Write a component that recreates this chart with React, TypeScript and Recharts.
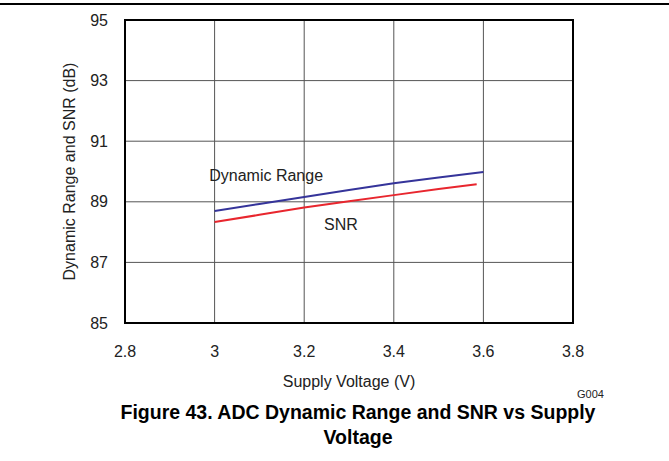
import { LineChart, Line, XAxis, YAxis, CartesianGrid, ReferenceArea, ReferenceDot } from 'recharts'

// Valeurs (dB vs tension d'alimentation)
const drVoltage = [3.0, 3.1, 3.2, 3.3, 3.4, 3.5, 3.6]
const dynamicRange = [88.7, 88.93, 89.16, 89.39, 89.61, 89.8, 89.98]
const snrVoltage = [3.0, 3.1, 3.2, 3.3, 3.4, 3.5, 3.585]
const snr = [88.33, 88.57, 88.81, 89.02, 89.22, 89.42, 89.58]
const xTicks = [2.8, 3, 3.2, 3.4, 3.6, 3.8]
const yTicks = [85, 87, 89, 91, 93, 95]

const drData = drVoltage.map((v, i) => ({ v, val: dynamicRange[i] }))
const snrData = snrVoltage.map((v, i) => ({ v, val: snr[i] }))

const FONT = '"Liberation Sans", Arial, sans-serif'
const tickStyle = { fontSize: 16, fill: '#222', fontFamily: FONT }

export default function App() {
  return (
    <div style={{ position: 'absolute', left: 0, top: 0, width: 669, height: 461, background: '#fff', fontFamily: FONT }}>
      <div style={{ position: 'absolute', left: 0, top: 3, width: 669, height: 2, background: '#000' }} />
      <LineChart width={669} height={461} margin={{ top: 20, right: 96, left: 40, bottom: 98 }}>
        <CartesianGrid stroke="#555" strokeWidth={1} />
        <XAxis
          dataKey="v"
          type="number"
          domain={[2.8, 3.8]}
          ticks={xTicks}
          tickFormatter={(t: number) => String(t)}
          tick={tickStyle}
          tickLine={false}
          tickSize={0}
          tickMargin={23}
          axisLine={{ stroke: '#000', strokeWidth: 2 }}
          height={40}
          allowDuplicatedCategory={false}
          label={{ value: 'Supply Voltage (V)', position: 'insideBottom', offset: -24, style: { fontSize: 16, fill: '#222', fontFamily: FONT } }}
        />
        <YAxis
          type="number"
          domain={[85, 95]}
          ticks={yTicks}
          tick={tickStyle}
          tickLine={false}
          tickSize={0}
          tickMargin={17}
          axisLine={{ stroke: '#000', strokeWidth: 2 }}
          width={85}
          label={{ value: 'Dynamic Range and SNR (dB)', angle: -90, position: 'insideLeft', offset: 29, style: { fontSize: 16, fill: '#222', fontFamily: FONT, textAnchor: 'middle' } }}
        />
        <ReferenceArea x1={2.8} x2={3.8} y1={85} y2={95} fill="none" stroke="#000" strokeWidth={2} ifOverflow="visible" />
        <Line data={drData} dataKey="val" stroke="#35349a" strokeWidth={2} dot={false} isAnimationActive={false} />
        <Line data={snrData} dataKey="val" stroke="#e8262e" strokeWidth={2} dot={false} isAnimationActive={false} />
        <ReferenceDot x={3.115} y={89.88} r={0} label={{ value: 'Dynamic Range', position: 'center', style: { fontSize: 16, fill: '#222', fontFamily: FONT } }} />
        <ReferenceDot x={3.282} y={88.27} r={0} label={{ value: 'SNR', position: 'center', style: { fontSize: 16, fill: '#222', fontFamily: FONT } }} />
      </LineChart>
      <div style={{ position: 'absolute', left: 577, top: 388, fontSize: 11, color: '#222' }}>G004</div>
      <div style={{ position: 'absolute', left: 0, top: 400, width: 716, textAlign: 'center', fontSize: 19.5, fontWeight: 'bold', color: '#000', lineHeight: '25px' }}>
        Figure 43. ADC Dynamic Range and SNR vs Supply<br />Voltage
      </div>
    </div>
  )
}
